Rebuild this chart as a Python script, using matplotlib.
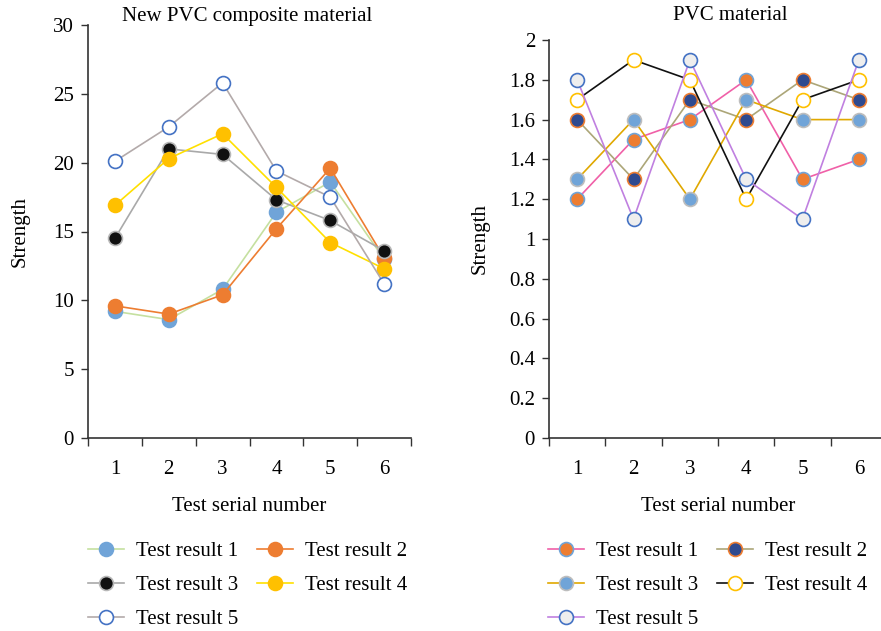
import numpy as np
import matplotlib
matplotlib.use("Agg")
import matplotlib.pyplot as plt

plt.rcParams['font.family'] = ['Liberation Serif', 'DejaVu Serif']
plt.rcParams['font.size'] = 15

tests = [1, 2, 3, 4, 5, 6]
labels = ['Test result 1', 'Test result 2', 'Test result 3', 'Test result 4', 'Test result 5']

# new PVC composite material
comp_1 = [9.2, 8.6, 10.8, 16.4, 18.6, 13.0]
comp_2 = [9.6, 9.0, 10.4, 15.2, 19.6, 13.1]
comp_3 = [14.5, 21.0, 20.6, 17.3, 15.8, 13.6]
comp_4 = [16.9, 20.3, 22.1, 18.2, 14.2, 12.3]
comp_5 = [20.1, 22.6, 25.8, 19.4, 17.5, 11.2]

# PVC material
pvc_1 = [1.2, 1.5, 1.6, 1.8, 1.3, 1.4]
pvc_2 = [1.6, 1.3, 1.7, 1.6, 1.8, 1.7]
pvc_3 = [1.3, 1.6, 1.2, 1.7, 1.6, 1.6]
pvc_4 = [1.7, 1.9, 1.8, 1.2, 1.7, 1.8]
pvc_5 = [1.8, 1.1, 1.9, 1.3, 1.1, 1.9]

# (line colour, marker fill, marker edge)
left_styles = [('#C5E0A0', '#70A4D8', '#70A4D8'),
               ('#ED7D31', '#ED7D31', '#ED7D31'),
               ('#A9A9A9', '#111111', '#B8B8B8'),
               ('#FFE000', '#FFC000', '#FFC000'),
               ('#B3AAAA', 'white', '#4472C4')]
right_styles = [('#F060A8', '#ED7D31', '#70A4D8'),
                ('#ACA678', '#2F4A8F', '#ED7D31'),
                ('#E0A800', '#70A4D8', '#BDBDBD'),
                ('#111111', 'white', '#FFC000'),
                ('#C080E0', '#EEEEEE', '#4472C4')]

fig = plt.figure(figsize=(8.81, 6.31), dpi=100)
W, H = 881, 631
ax1 = fig.add_axes([88 / W, 1 - 438 / H, 323 / W, 413 / H])
ax2 = fig.add_axes([549 / W, 1 - 438 / H, 338 / W, 398 / H])


def style_axis(ax, ymax, yticks, yfmt):
    ax.set_xlim(0.5, 6.5)
    ax.set_ylim(0, ymax)
    ax.set_xticks(np.arange(0.5, 7, 1))
    ax.set_xticklabels([])
    ax.set_xticks(tests, minor=True)
    ax.set_xticklabels([str(t) for t in tests], minor=True)
    ax.tick_params(axis='x', which='major', length=6, width=1, direction='out', color='#333333')
    ax.tick_params(axis='x', which='minor', length=0, pad=16)
    ax.set_yticks(yticks)
    ax.set_yticklabels([yfmt(v) for v in yticks])
    ax.tick_params(axis='y', length=5, width=1, color='#333333', pad=5)
    for s in ['top', 'right']:
        ax.spines[s].set_visible(False)
    for s in ['left', 'bottom']:
        ax.spines[s].set_color('#333333')
        ax.spines[s].set_linewidth(1.2)
    ax.set_ylabel('Strength')
    ax.set_xlabel('Test serial number', labelpad=13)


left_data = [comp_1, comp_2, comp_3, comp_4, comp_5]
h1 = []
for d, (lc, fc, ec), lab in zip(left_data, left_styles, labels):
    ln, = ax1.plot(tests, d, color=lc, lw=1.2, marker='o', ms=10,
                   mfc=fc, mec=ec, mew=1.2, label=lab, clip_on=False)
    h1.append(ln)
style_axis(ax1, 30, np.arange(0, 31, 5), lambda v: '%d' % v)
ax1.yaxis.set_label_coords(-0.18, 0.5)
fig.text(247 / W, 1 - 16 / H, 'New PVC composite material', ha='center', va='center', fontsize=15)

right_data = [pvc_1, pvc_2, pvc_3, pvc_4, pvc_5]
h2 = []
for d, (lc, fc, ec), lab in zip(right_data, right_styles, labels):
    ln, = ax2.plot(tests, d, color=lc, lw=1.2, marker='o', ms=10,
                   mfc=fc, mec=ec, mew=1.2, label=lab, clip_on=False)
    h2.append(ln)
style_axis(ax2, 2, np.round(np.arange(0, 2.01, 0.2), 1), lambda v: '%g' % v)
ax2.yaxis.set_label_coords(-0.175, 0.5)
fig.text(730 / W, 1 - 16 / H, 'PVC material', ha='center', va='center', fontsize=15)

# legend fills column by column, so reorder to read row by row
order = [0, 2, 4, 1, 3]
leg_kw = dict(ncol=2, frameon=False, handlelength=1.7, handletextpad=0.6,
              columnspacing=0.9, labelspacing=0.7, fontsize=15, borderaxespad=0)
fig.legend(handles=[h1[i] for i in order], loc='upper left',
           bbox_to_anchor=(80 / W, 1 - 533 / H), **leg_kw)
fig.legend(handles=[h2[i] for i in order], loc='upper left',
           bbox_to_anchor=(540 / W, 1 - 533 / H), **leg_kw)

fig.savefig('out.png', dpi=100)
